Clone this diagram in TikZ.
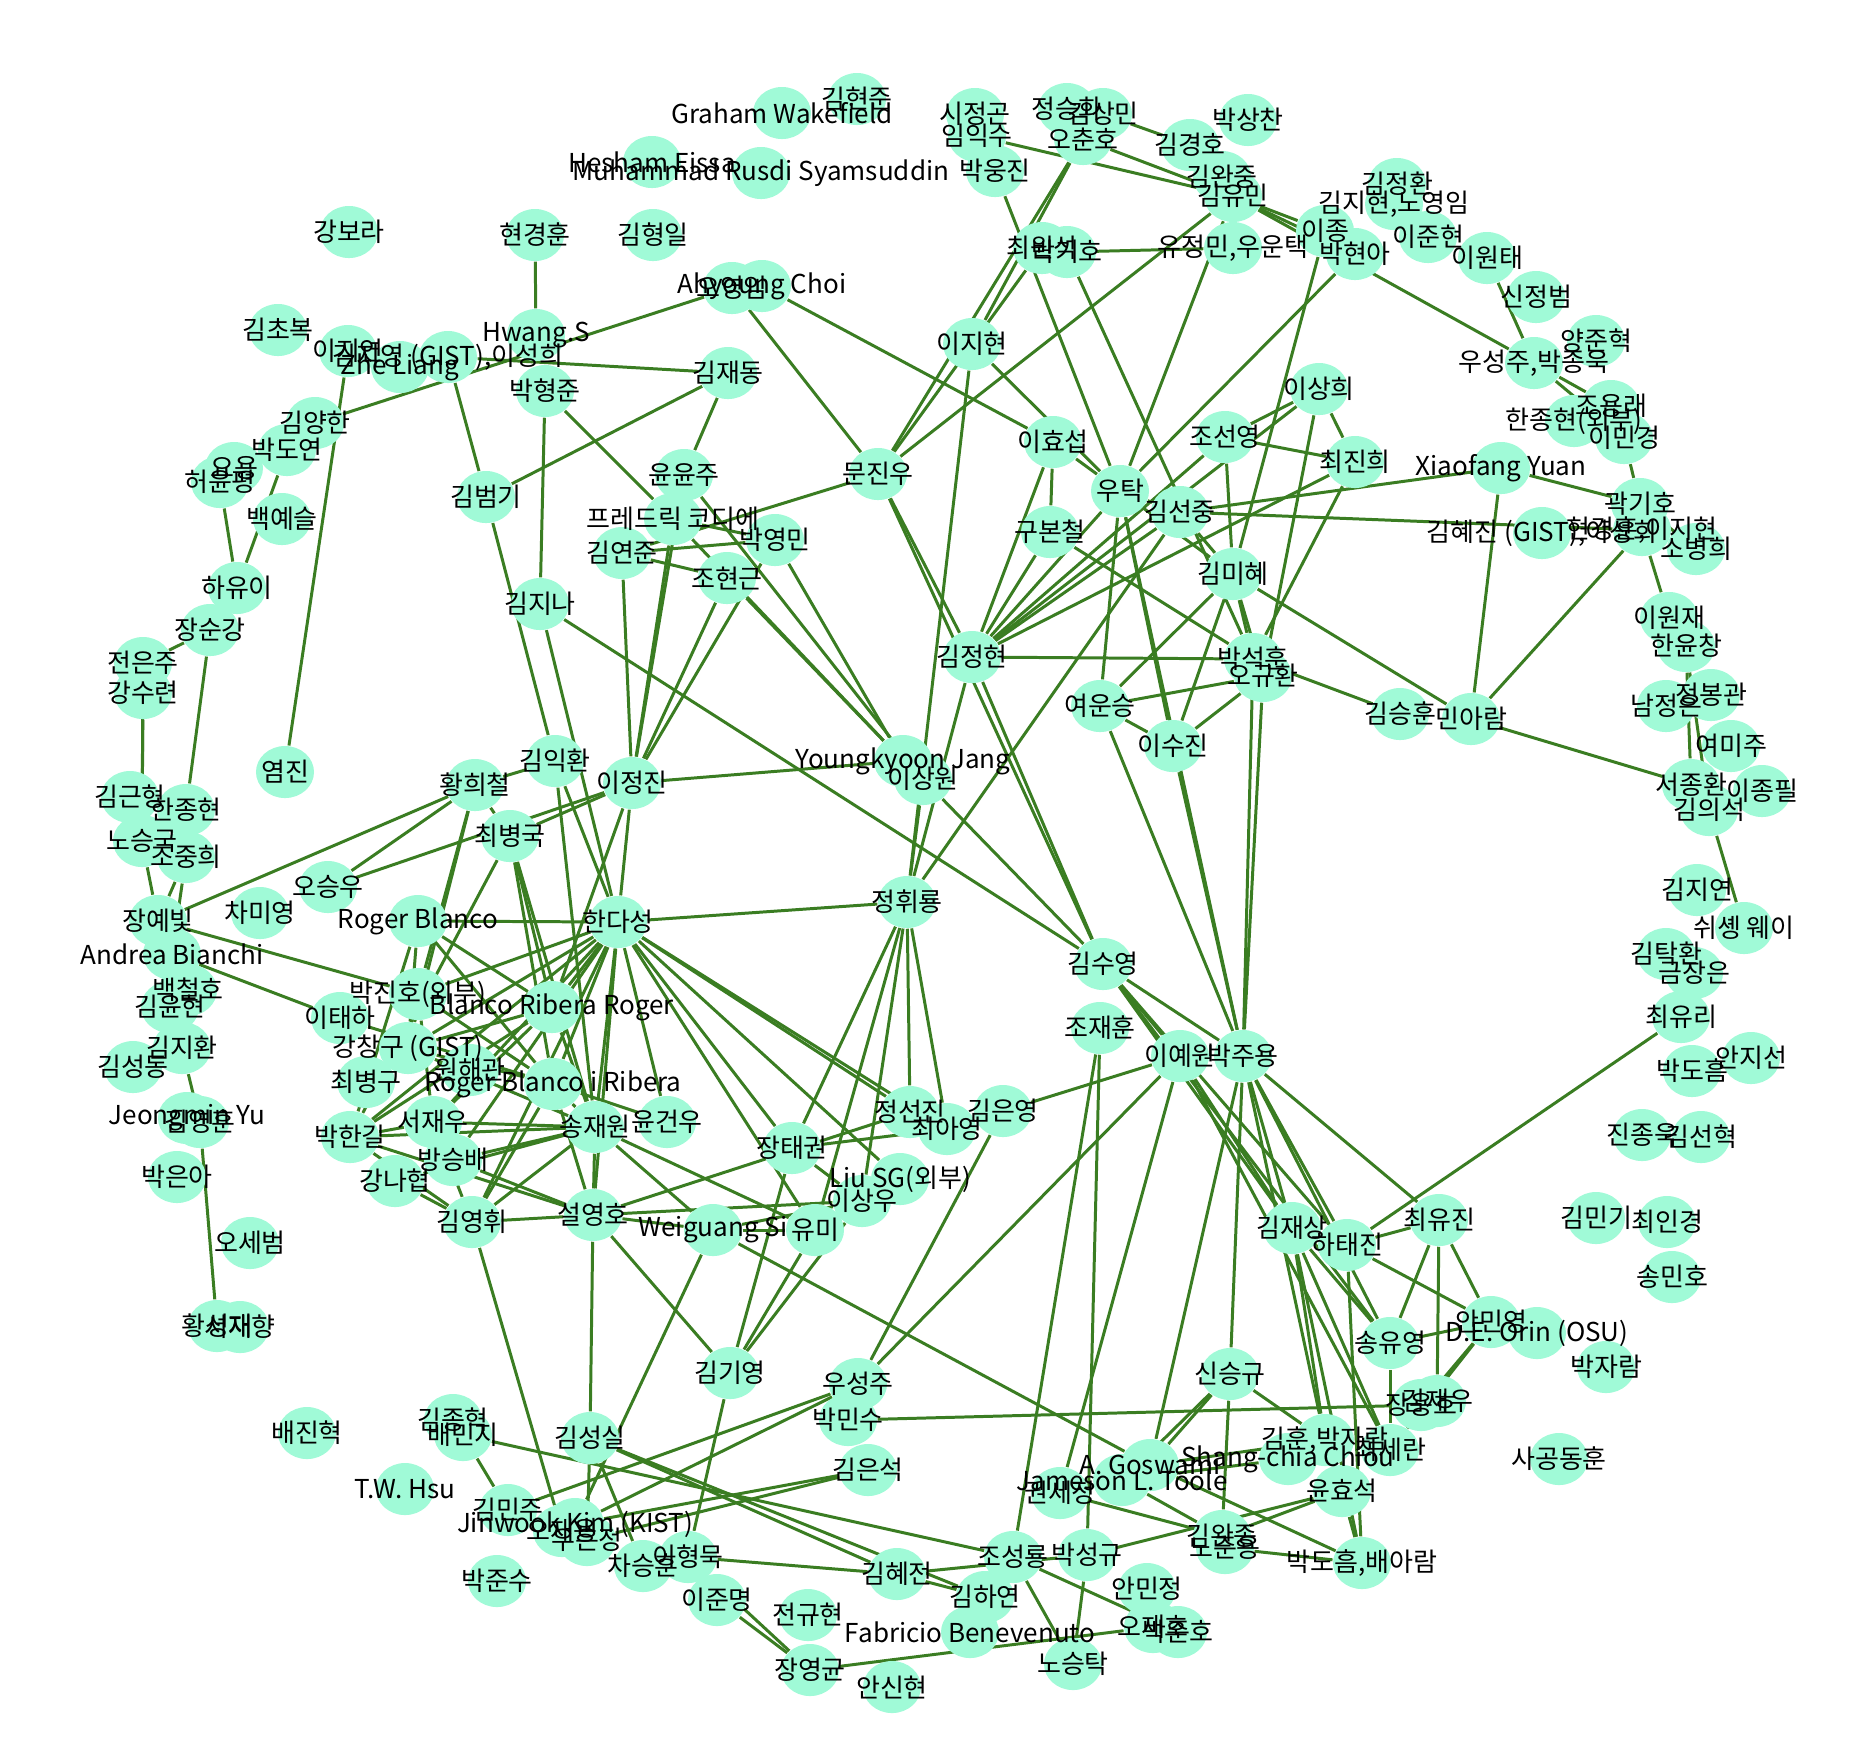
\documentclass[tikz,border=0pt]{standalone}
\usepackage{fontspec}
\setmainfont{Noto Sans CJK KR}
\usetikzlibrary{shapes.geometric,backgrounds}
\definecolor{nodefill}{RGB}{160,250,215}
\definecolor{edgegreen}{RGB}{58,125,34}
\tikzset{
person/.style={
ellipse,
fill=nodefill,
minimum width=0.58cm,
minimum height=0.52cm,
inner sep=0pt
},
plabel/.style={
inner sep=0pt,
font=\fontsize{7.4}{8.5}\selectfont
},
link/.style={
draw=edgegreen,
line width=0.85pt
}
}
% people: id/x/y/label (x,y in pixels of the 1874x1750 frame)
\def\people{hyeonjun/857/99/김현준,
graham/782/113/Graham Wakefield,
hesham/652/162/Hesham Eissa,
rusdi/761/173/Muhammad Rusdi Syamsuddin,
sijg/975/114/시정곤,
imis/977/136/임익수,
jungsh/1067/109/정승화,
kimsm/1103/114/김상민,
ohch/1083/139/오춘호,
parksc/1248/120/박상찬,
kimkh/1190/145/김경호,
parkwj/995/171/박웅진,
kimwj/1222/177/김완중,
kimym/1233/196/김유민,
choiws/1042/248/최원석,
parkkh/1067/252/박기호,
yujm/1233/248/{유정민,우운택},
leej/1325/231/이종,
parkha/1355/254/박현아,
kimjhw/1397/184/김정환,
kimjhn/1394/204/{김지현,노영임},
leejh/1428/237/이준현,
leewt/1487/258/이원태,
shinjb/1536/297/신정범,
yangjh/1596/341/양준혁,
woosjpjw/1534/363/{우성주,박종욱},
choyr/1611/406/조용래,
hanjhx/1574/421/한종현(외부),
leemk/1624/438/이민경,
xiaofang/1501/468/Xiaofang Yuan,
kwakkh/1640/504/곽기호,
kimhjg/1542/533/{김혜진 (GIST),이성희},
hyunlee/1642/530/{현경훈,이지현},
sobh/1696/549/소병희,
leejhy/972/344/이지현,
leehs/1053/442/이효섭,
leesh/1319/389/이상희,
chosy/1225/437/조선영,
choijh/1355/462/최진희,
wootak/1120/491/우탁,
kimsj/1180/512/김선중,
koobc/1050/532/구본철,
kimmh/1233/574/김미혜,
kangbr/349/232/강보라,
hyunkh/535/235/현경훈,
kimhi/653/235/김형일,
kimcb/278/330/김초복,
leejy/348/351/이지연,
zhe/400/367/Zhe Liang,
kimjyg/448/357/{김지영 (GIST),이성희},
ohyi/732/288/오영임,
ahyoung/762/286/Ahyoung Choi,
hwang/536/335/Hwang.S,
kimjd/728/373/김재동,
parkhj/545/391/박형준,
kimyh/315/423/김양한,
parkdy/287/450/박도연,
yoyong/234/468/요용,
heoyp/220/482/허윤평,
baekys/282/519/백예슬,
hayi/237/588/하유이,
kimbg/486/497/김범기,
yunyj/684/475/윤윤주,
moonjw/878/474/문진우,
cordier/673/519/프레드릭 코디에,
kimyj/622/553/김연준,
parkym/775/540/박영민,
chohg/727/578/조현근,
kimjn/540/604/김지나,
jangsg/210/630/장순강,
jeonej/143/663/전은주,
kangsr/143/693/강수련,
yeomj/285/772/염진,
kimgh/130/797/김근형,
hanjh/186/810/한종현,
nosg/142/841/노승국,
chojh/186/857/조중희,
hwanghc/475/785/황희철,
ohsw/328/887/오승우,
chamy/260/913/차미영,
jangyb/158/921/장예빛,
rogerb/418/921/Roger Blanco,
bianchi/172/954/Andrea Bianchi,
baekch/188/990/백철호,
kimyhn/170/1007/김윤현,
parkjhx/418/994/박진호(외부),
leeth/340/1018/이태하,
kimjhwan/182/1048/김지환,
kimsd/133/1067/김성동,
kangcg/408/1048/강창구 (GIST),
choibg/366/1082/최병구,
wonhg/470/1070/원해관,
rbir/553/1084/Roger Blanco i Ribera,
parkhg/350/1137/박한길,
seojw/433/1122/서재우,
bangsb/453/1160/방승배,
jeongmin/187/1118/Jeongmin Yu,
kimyhun/200/1122/김영훈,
kangnh/395/1181/강나협,
kimyhw/472/1222/김영휘,
kimih/555/761/김익환,
leejj/632/783/이정진,
choibk/510/836/최병국,
yjang/903/761/Youngkyoon Jang,
leesw/923/779/이상원,
handa/618/922/한다성,
junghr/907/902/정휘룡,
brr/552/1007/Blanco Ribera Roger,
songjw/595/1127/송재원,
yungw/667/1122/윤건우,
jangtk/792/1148/장태권,
jungsj/910/1112/정선진,
choiay/947/1129/최아영,
kimjhy/972/657/김정현,
parksh/1253/659/박석훈,
ohgh/1263/676/오규환,
yeous/1100/706/여운승,
leesj/1173/746/이수진,
kimsh/1400/714/김승훈,
minar/1471/719/민아람,
kimsy/1103/964/김수영,
chojhn/1100/1028/조재훈,
leeyw/1180/1056/이예원,
parkjy/1243/1056/박주용,
kimey/1003/1111/김은영,
leewj/1669/618/이원재,
hanyc/1686/646/한윤창,
namje/1666/706/남정은,
jungbg/1711/695/정봉관,
yeomiju/1731/746/여미주,
seojh/1691/785/서종환,
leejp/1762/791/이종필,
kimes/1709/810/김의석,
kimjyn/1697/890/김지연,
xusw/1744/928/쉬솅 웨이,
kimth/1666/954/김탁환,
geumje/1694/973/금장은,
choiyl/1681/1017/최유리,
parkdh/1692/1071/박도흠,
ahnjs/1751/1058/안지선,
jinjw/1642/1135/진종욱,
kimshk/1701/1137/김선혁,
parkea/177/1177/박은아,
ohsb/250/1243/오세범,
hwangsj/217/1326/황성재,
seojhy/240/1327/서재향,
baejh/307/1433/배진혁,
kimjhk/453/1420/김종혁,
baemj/463/1435/배민지,
twhsu/405/1489/T.W. Hsu,
parkjs/497/1581/박준수,
seolyh/593/1215/설영호,
weiguang/713/1230/Weiguang Si,
yumi/815/1230/유미,
leesu/862/1201/이상우,
liusg/900/1179/Liu SG(외부),
kimky/730/1373/김기영,
woosj/858/1384/우성주,
parkms/848/1420/박민수,
kimssl/590/1438/김성실,
kimesk/868/1470/김은석,
kimmj/508/1510/김민주,
ohjy/562/1531/오재용,
wooej/587/1540/우은정,
jinwook/575/1524/Jinwook Kim (KIST),
chash/643/1566/차승훈,
leehm/688/1557/이형묵,
leejm/717/1600/이준명,
kimhjn/897/1574/김혜전,
jeongh/808/1615/전규현,
jangyg/810/1670/장영균,
ahnsh/892/1687/안신현,
fabricio/970/1632/Fabricio Benevenuto,
kimjs/1292/1228/김재상,
hatj/1347/1245/하태진,
songyy/1390/1343/송유영,
shinsg/1230/1374/신승규,
kimhpjr/1325/1440/{김훈,박자람},
shang/1288/1459/Shang-chia Chiou,
choisr/1390/1450/최세란,
yunhs/1342/1491/윤효석,
goswami/1150/1465/A. Goswami,
toole/1122/1480/Jameson L. Toole,
kwonsj/1060/1493/권세정,
kimwjg/1222/1536/김완종,
nojy/1225/1548/노준용,
parkdhba/1362/1563/{박도흠,배아람},
chosr/1013/1557/조성룡,
parksg/1087/1555/박성규,
ahnmj/1147/1589/안민정,
kimhy/985/1597/김하연,
ohjh/1153/1627/오재호,
parkjhn/1178/1632/박준호,
nost/1073/1664/노승탁,
choiyj/1439/1220/최유진,
kimmk/1596/1218/김민기,
choiik/1667/1222/최인경,
songmh/1672/1277/송민호,
ahnmy/1491/1322/안민영,
orin/1537/1333/D.E. Orin (OSU),
parkjr/1606/1367/박자람,
kimjw/1437/1401/김재우,
jangyh/1421/1405/장용호,
sagong/1559/1459/사공동훈}
% links between people
\def\links{ohch/kimym,kimsm/kimkh,imis/kimym,ohch/moonjw,ohch/leejhy,choiws/moonjw,
parkkh/yujm,kimym/leej,kimym/parkha,kimym/woosjpjw,kimym/wootak,kimym/moonjw,
parkwj/wootak,parkkh/parksh,parkha/wootak,leej/kimmh,leejhy/junghr,leejhy/wootak,
ahyoung/leehs,leehs/wootak,leehs/koobc,leehs/kimjhy,leewt/woosjpjw,woosjpjw/choyr,
woosjpjw/leemk,leemk/kwakkh,xiaofang/kwakkh,xiaofang/minar,hyunlee/minar,hyunlee/leewj,
kwakkh/sobh,minar/seojh,kimmh/minar,parksh/kimsh,hanyc/seojh,hanyc/kimes,kimes/xusw,
choiyl/hatj,kimsj/xiaofang,kimsj/hyunlee,
hyunkh/hwang,kimyh/ohyi,kimjyg/kimjd,kimjyg/kimbg,leejy/yeomj,parkdy/hayi,heoyp/hayi,
hayi/jangsg,jangsg/jeonej,jangsg/hanjh,kangsr/nosg,jeonej/nosg,nosg/jangyb,chojh/jangyb,
chojh/bianchi,jangyb/hwanghc,hwanghc/ohsw,ohsw/leejj,bianchi/leeth,jangyb/parkjhx,
kimyhn/kimjhwan,kimjhwan/kimyhun,kimyhun/hwangsj,
kimjd/kimbg,kimjd/yunyj,parkhj/cordier,parkhj/kimjn,ohyi/moonjw,kimyj/moonjw,kimyj/parkym,
cordier/parkym,kimyj/chohg,cordier/yjang,chohg/yjang,parkym/yjang,yunyj/leesw,
cordier/leejj,yunyj/leejj,chohg/leejj,parkym/leejj,kimyj/leejj,leejj/yjang,
moonjw/kimjhy,moonjw/kimsy,kimbg/kimih,kimjn/handa,kimjn/kimsy,leesw/junghr,leesw/kimsy,
kimjhy/junghr,kimjhy/kimsy,
chosy/leesh,chosy/choijh,chosy/kimmh,chosy/kimjhy,leesh/kimjhy,leesh/ohgh,leesh/choijh,
choijh/kimjhy,choijh/parksh,wootak/kimjhy,wootak/kimsj,wootak/kimmh,wootak/yeous,
wootak/leesj,wootak/parkjy,kimsj/kimjhy,kimsj/kimmh,kimsj/junghr,koobc/kimjhy,koobc/parksh,
kimmh/parksh,kimmh/ohgh,kimjhy/parksh,yeous/ohgh,yeous/kimmh,yeous/leesj,yeous/parkjy,
leesj/ohgh,leesj/kimmh,leesj/parkjy,parksh/parkjy,ohgh/parkjy,kimsy/leeyw,kimsy/parkjy,
kimsy/kimjs,kimsy/hatj,kimsy/songyy,kimey/leeyw,kimey/woosj,leeyw/woosj,chojhn/chosr,
chojhn/parksg,kwonsj/leeyw,goswami/parkjy,shinsg/parkjy,parkjy/kimjs,parkjy/hatj,
parkjy/choiyj,parkjy/songyy,parkjy/kimhpjr,leeyw/kimjs,leeyw/choisr,
hatj/choiyj,choiyj/songyy,choiyj/kimjw,choiyj/ahnmy,hatj/ahnmy,songyy/ahnmy,ahnmy/jangyh,
ahnmy/choisr,kimjs/songyy,kimjs/kimhpjr,kimjs/choisr,kimjs/parkdhba,hatj/parkdhba,
songyy/choisr,shinsg/goswami,shinsg/toole,shinsg/kimhpjr,shinsg/kimwjg,goswami/kimhpjr,
toole/shang,yunhs/parksg,yunhs/parkdhba,goswami/parkdhba,toole/kimwjg,kwonsj/kimwjg,
kimwjg/yunhs,nojy/parkdhba,chosr/nost,chosr/parkjhn,parksg/nost,parkms/jangyh,
weiguang/goswami,woosj/kimmj,woosj/jinwook,kimesk/jinwook,kimesk/wooej,kimssl/kimhjn,
baemj/chosr,kimhjn/parksg,leehm/kimhjn,jangyg/ohjh,leejm/jangyg,leehm/jangyg,
kimky/jangtk,kimky/yumi,kimky/leesu,kimky/seolyh,kimky/leehm,weiguang/jinwook,
seolyh/kimssl,kimyhw/ohjy,kimssl/wooej,kimssl/chash,baemj/kimmj,kimssl/kimhy,kimhjn/kimhy,
rogerb/brr,rogerb/parkhg,rogerb/rbir,rogerb/kangcg,rogerb/handa,parkjhx/handa,
parkjhx/seojw,parkjhx/rbir,leeth/rbir,kangcg/handa,kangcg/songjw,kangcg/brr,kangcg/rbir,
brr/handa,brr/parkhg,brr/seojw,brr/songjw,rbir/handa,rbir/songjw,rbir/yungw,rbir/seolyh,
rbir/kimyhw,parkhg/handa,parkhg/songjw,parkhg/seojw,parkhg/seolyh,parkhg/kimyhw,
seojw/handa,seojw/songjw,seojw/kimyhw,bangsb/handa,bangsb/songjw,bangsb/seolyh,
kangnh/kimyhw,kangnh/songjw,kimyhw/songjw,kimyhw/seolyh,kimyhw/handa,songjw/handa,
songjw/seolyh,songjw/weiguang,songjw/yumi,yungw/handa,seolyh/handa,seolyh/weiguang,
seolyh/leesu,seolyh/jungsj,choibk/rbir,choibk/brr,choibk/parkhg,choibk/songjw,
choibk/leejj,hwanghc/choibk,hwanghc/parkjhx,hwanghc/kangcg,hwanghc/kimih,kimih/songjw,
kimih/handa,leejj/handa,leejj/brr,handa/junghr,handa/jungsj,handa/choiay,handa/jangtk,
handa/liusg,handa/yumi,junghr/jangtk,junghr/jungsj,junghr/choiay,junghr/leesu,
junghr/yumi,jangtk/choiay,jangtk/leesu,weiguang/yumi,weiguang/leesu}

\begin{document}
\begin{tikzpicture}[x=0.01cm,y=-0.01cm]
\useasboundingbox (0,0) rectangle (1874,1750);

% circles first, then the names on top of them
\foreach \id/\px/\py/\txt in \people {
\node[person] (\id) at (\px,\py) {};
}
\foreach \id/\px/\py/\txt in \people {
\node[plabel] at (\id) {\txt};
}

% links under the circles
\begin{scope}[on background layer]
\foreach \a/\b in \links {
\draw[link] (\a) -- (\b);
}
\end{scope}

\end{tikzpicture}
\end{document}
